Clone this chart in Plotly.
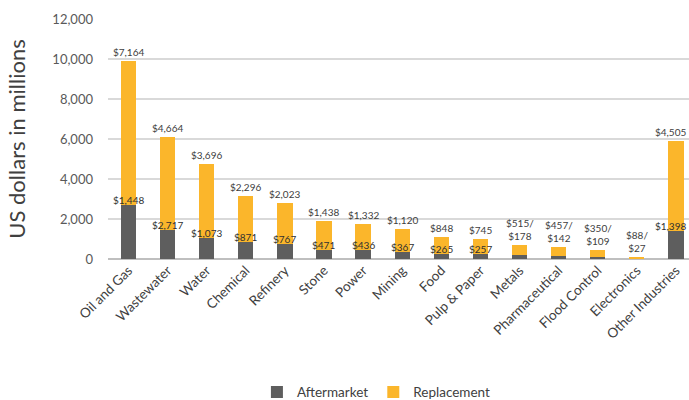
import plotly.graph_objects as go

categories = ["Oil and Gas", "Wastewater", "Water", "Chemical", "Refinery", "Stone", "Power",
              "Mining", "Food", "Pulp & Paper", "Metals", "Pharmaceutical", "Flood Control",
              "Electronics", "Other Industries"]
aftermarket = [2717, 1448, 1073, 871, 767, 471, 436, 367, 265, 257, 178, 142, 109, 27, 1398]
replacement = [7164, 4664, 3696, 2296, 2023, 1438, 1332, 1120, 848, 745, 515, 457, 350, 88, 4505]
# data-label texts as printed on the chart
replacement_labels = ["$7,164", "$4,664", "$3,696", "$2,296", "$2,023", "$1,438", "$1,332",
                      "$1,120", "$848", "$745", "$515/<br>$178", "$457/<br>$142",
                      "$350/<br>$109", "$88/<br>$27", "$4,505"]
aftermarket_labels = ["$1,448", "$2,717", "$1,073", "$871", "$767", "$471", "$436", "$367",
                      "$265", "$257", "", "", "", "", "$1,398"]
y_ticks = [0, 2000, 4000, 6000, 8000, 10000, 12000]

DARK = "#5e5e5e"
YELLOW = "#fbb62b"
FONT = "Lato, 'Open Sans', sans-serif"

fig = go.Figure()
fig.add_trace(go.Bar(x=categories, y=aftermarket, name="Aftermarket", marker_color=DARK,
                     marker_line_width=0, width=0.39))
fig.add_trace(go.Bar(x=categories, y=replacement, name="Replacement", marker_color=YELLOW,
                     marker_line_width=0, width=0.39))

annotations = []
n = len(categories)
for i, (c, a, r, rl, al) in enumerate(zip(categories, aftermarket, replacement,
                                          replacement_labels, aftermarket_labels)):
    last = i == n - 1
    annotations.append(dict(x=c, y=a + r, text=rl, showarrow=False, yanchor="bottom",
                            yshift=1, xshift=-5 if last else 0,
                            font=dict(size=10, color="#404040", family=FONT)))
    if al:
        annotations.append(dict(x=c, y=a, text=al, showarrow=False, yanchor="bottom",
                                yshift=-3, xshift=-5 if last else 0,
                                font=dict(size=10, color="#303030", family=FONT)))

fig.update_layout(
    barmode="stack",
    width=689, height=400,
    margin=dict(l=108, r=0, t=19, b=141, autoexpand=False),
    plot_bgcolor="white", paper_bgcolor="white",
    font=dict(family=FONT, color="#595959"),
    annotations=annotations,
    showlegend=True,
    legend=dict(orientation="h", x=0.462, xanchor="center", y=-0.555, yanchor="middle",
                traceorder="normal", font=dict(size=13.5, color="#404040"),
                itemwidth=30),
    xaxis=dict(range=[-0.524, 14.335], tickangle=-45, tickfont=dict(size=13.5, color="#404040"),
               showgrid=False, showline=False, ticks="", automargin=False),
    yaxis=dict(range=[0, 12000], tickvals=y_ticks, tickformat=",d",
               tickfont=dict(size=13, color="#595959"),
               gridcolor="#d9d9d9", gridwidth=1.5, zeroline=True, zerolinecolor="#bfbfbf",
               zerolinewidth=1.5, ticks="", ticklabelstandoff=14, automargin=False,
               title=dict(text="US dollars in millions", font=dict(size=22, color="#404040"),
                          standoff=20)),
)

fig.write_html("out.html")
